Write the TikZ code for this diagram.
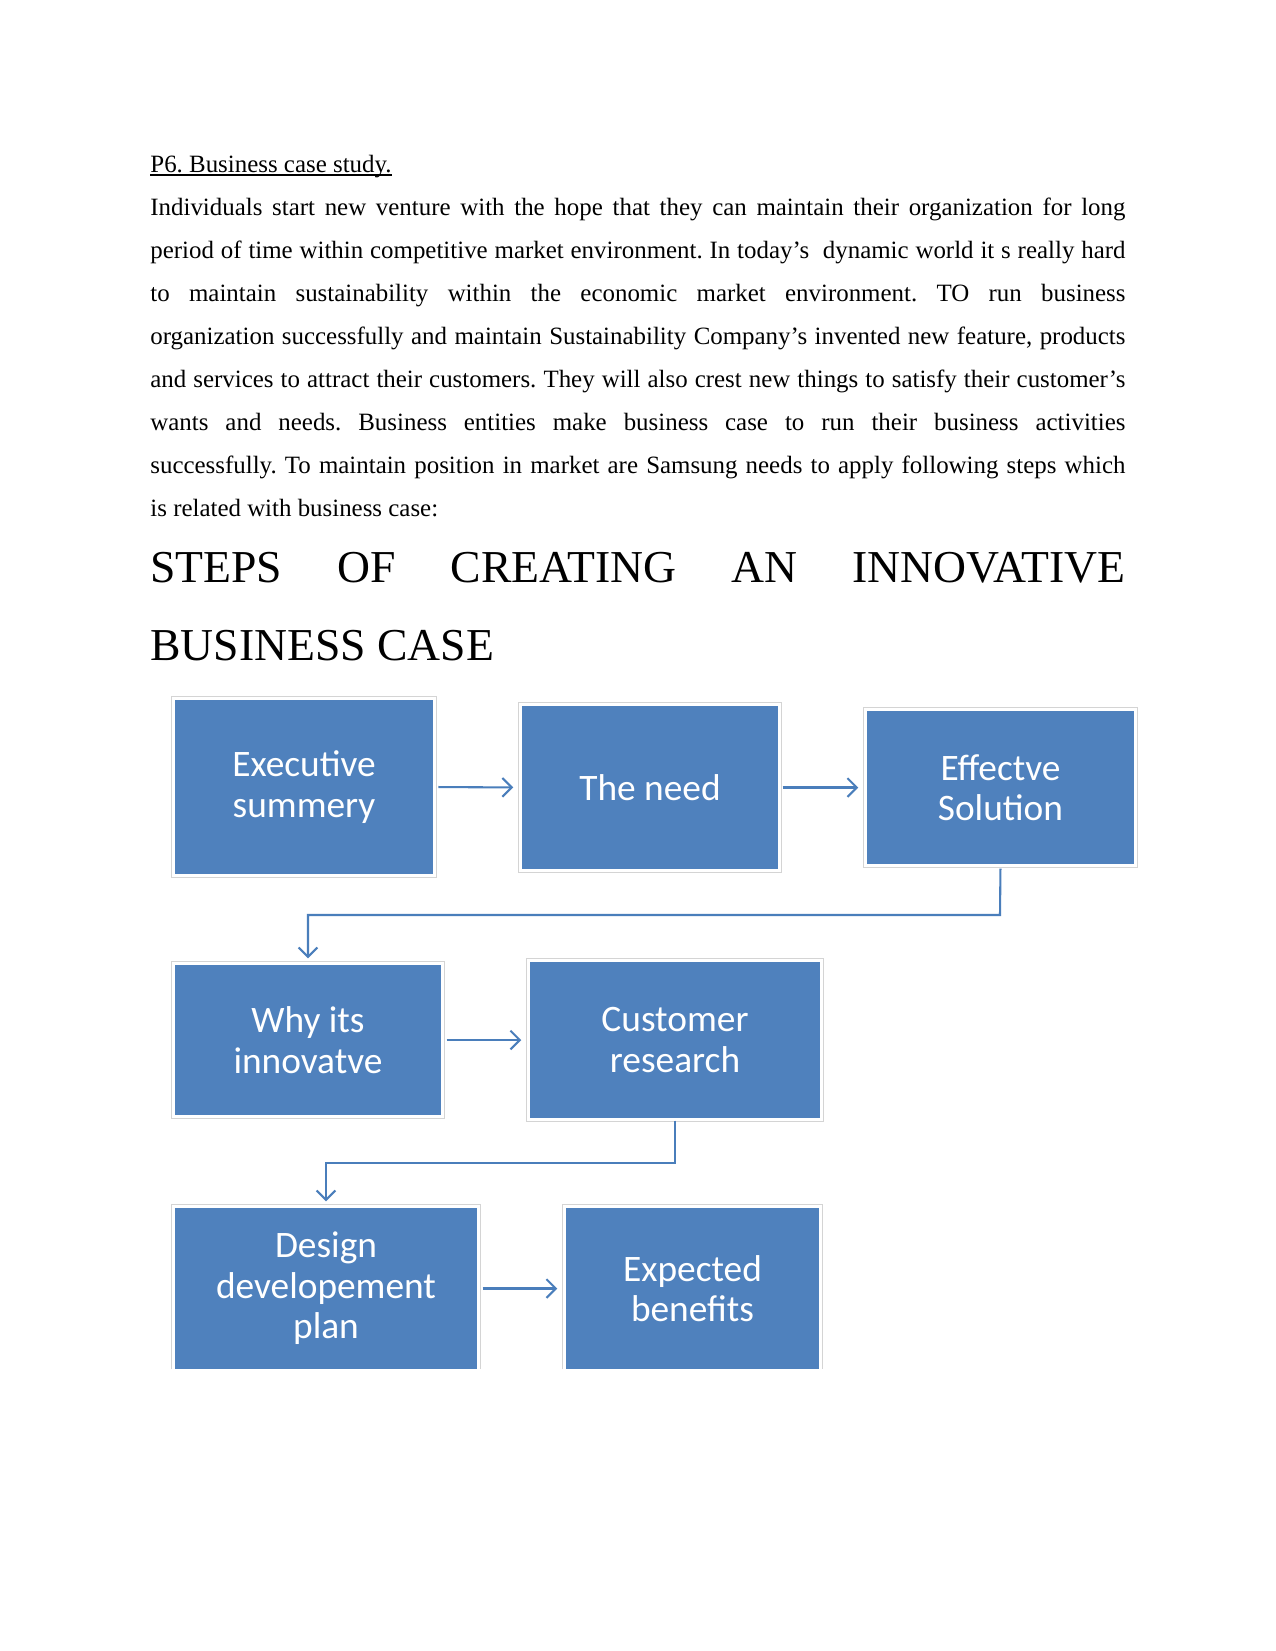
\documentclass[tikz,border=0pt]{standalone}
\usepackage{fontspec}
\setmainfont{Liberation Serif}
\newfontfamily\boxfont{Carlito}
\usetikzlibrary{arrows.meta,calc}
\definecolor{boxblue}{HTML}{4F81BD}
\definecolor{linkblue}{HTML}{4A7EBB}
\definecolor{framegray}{HTML}{D4D4D4}
\frenchspacing
\begin{document}
\begin{tikzpicture}[x=0.48bp,y=-0.48bp,
  bodyline/.style={anchor=base west, inner sep=0, font=\fontsize{12}{14}\selectfont},
  headline/.style={anchor=base west, inner sep=0, font=\fontsize{22}{26}\selectfont},
  stepbox/.style 2 args={fill=boxblue, inner sep=0, text=white, align=center,
     minimum width={#1*0.48bp}, minimum height={#2*0.48bp},
     font=\boxfont\fontsize{18}{19.5}\selectfont},
  frame/.style={draw=framegray, line width=0.6bp},
  link/.style={draw=linkblue, line width=1bp, -{Straight Barb[length=4.5bp,width=9bp]}}]
\useasboundingbox[fill=white] (0,0) rectangle (1275,1651);

% ---- text ----
\node[bodyline] (title) at (150,172) {P6. Business case study.};
\draw[line width=0.5bp] ($(title.base west)+(0,3)$) -- ($(title.base east)+(0,3)$);

\node[bodyline] (l1) at (150,215.0) {\makebox[6.5in][s]{Individuals start new venture with the hope that they can maintain their organization for long}};
\node[bodyline] (l2) at (150,258.1) {\makebox[6.5in][s]{period of time within competitive market environment. In today’s~ dynamic world it s really hard}};
\node[bodyline] (l3) at (150,301.2) {\makebox[6.5in][s]{to maintain sustainability within the economic market environment. TO run business}};
\node[bodyline] (l4) at (150,344.3) {\makebox[6.5in][s]{organization successfully and maintain Sustainability Company’s invented new feature, products}};
\node[bodyline] (l5) at (150,387.4) {\makebox[6.5in][s]{and services to attract their customers. They will also crest new things to satisfy their customer’s}};
\node[bodyline] (l6) at (150,430.5) {\makebox[6.5in][s]{wants and needs. Business entities make business case to run their business activities}};
\node[bodyline] (l7) at (150,473.6) {\makebox[6.5in][s]{successfully. To maintain position in market are Samsung needs to apply following steps which}};
\node[bodyline] (l8) at (150,516.7) {is related with business case:};

\node[headline] (h1) at (150,582) {\makebox[6.5in][s]{STEPS OF CREATING AN INNOVATIVE}};
\node[headline] (h2) at (150,660) {BUSINESS CASE};

% ---- boxes (centre, width, height in px) ----
\node[stepbox={258}{174}] (exec) at (304,787) {Executive\\summery};
\node[stepbox={256}{163}] (need) at (650,787.5) {The need};
\node[stepbox={267}{153}] (eff) at (1000.5,787.5) {Effectve\\Solution};
\node[stepbox={266}{150}] (why) at (308,1040) {Why its\\innovatve};
\node[stepbox={290}{156}] (cust) at (675,1040) {Customer\\research};
\node[stepbox={302}{161}] (design) at (326,1288.5) {Design\\developement\\plan};
\node[stepbox={253}{161}] (expect) at (692.5,1288.5) {Expected\\benefits};

% frames
\foreach \b in {exec,need,eff,why,cust}{
  \draw[frame] ($(\b.south west)+(-3,3)$) rectangle ($(\b.north east)+(3,-3)$);
}
\foreach \b in {design,expect}{
  \draw[frame] ($(\b.south west)+(-3,0)$) |- ($(\b.north east)+(3,-3)$) -- ($(\b.south east)+(3,0)$);
}

% ---- connectors ----
\draw[link, shorten <=2.4bp, shorten >=4bp] (exec.east) -- (need.west);
\draw[link, shorten <=2bp, shorten >=4bp] (need.east) -- (eff.west);
\coordinate (k1) at (1000,915);
\draw[link, shorten <=2bp, shorten >=3bp] (eff.south) -- (k1) -| (why.north);
\draw[link, shorten <=2.5bp, shorten >=4bp] (why.east) -- (cust.west);
\coordinate (k2) at (675,1163);
\draw[link, shorten <=1bp, shorten >=3bp] (cust.south) -- (k2) -| (design.north);
\draw[link, shorten <=2.5bp, shorten >=4bp] (design.east) -- (expect.west);
\end{tikzpicture}
\end{document}
